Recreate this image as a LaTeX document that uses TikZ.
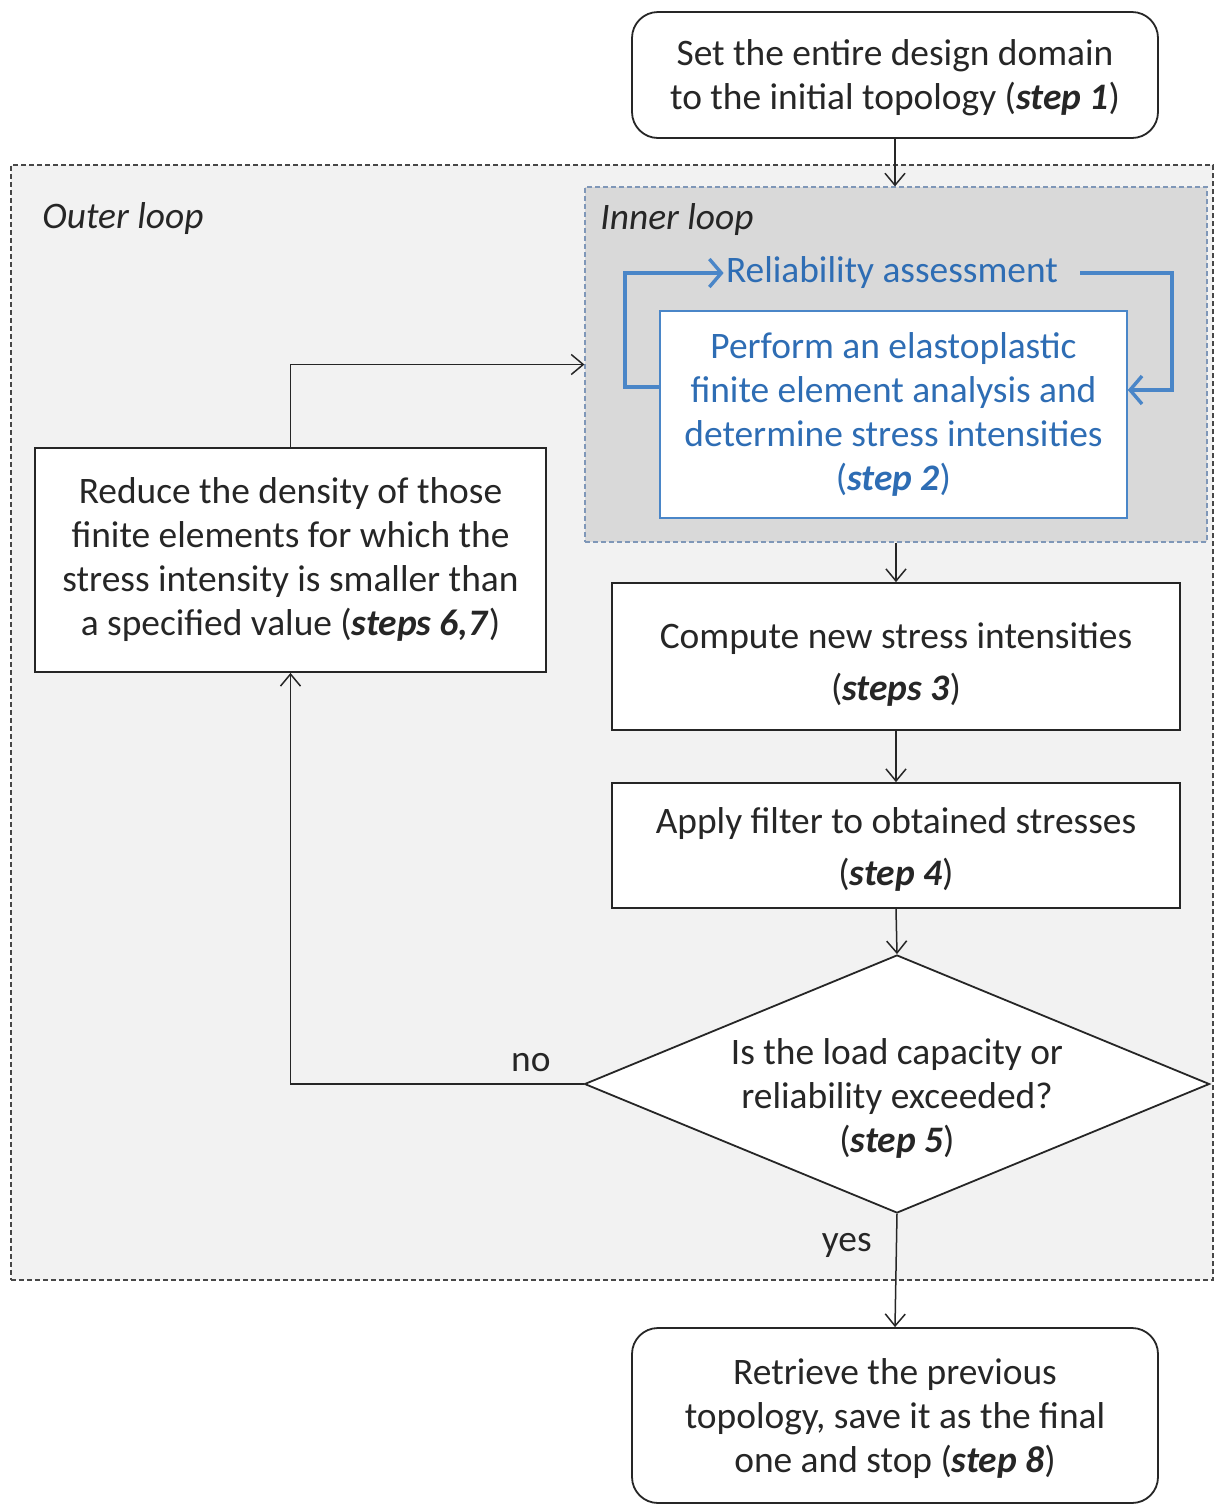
\documentclass[tikz,border=0pt]{standalone}
\usepackage{fontspec}
\setmainfont{Carlito}
\usetikzlibrary{arrows.meta,shapes.geometric}
\definecolor{txt}{HTML}{262626}
\definecolor{outerfill}{HTML}{F2F2F2}
\definecolor{innerfill}{HTML}{D9D9D9}
\definecolor{innerdash}{HTML}{7F97B8}
\definecolor{bluetxt}{HTML}{2E6DB4}
\definecolor{blueline}{HTML}{4A86C8}
\newcommand{\stp}[1]{\textbf{\textit{#1}}}
\begin{document}
\begin{tikzpicture}[x=0.5pt,y=-0.5pt,
  font=\fontsize{18.7}{22}\selectfont, text=txt,
  box/.style={draw=txt,line width=0.9pt,fill=white,align=center,inner sep=0pt},
  rbox/.style={box,rounded corners=13pt},
  conn/.style={draw=txt,line width=0.75pt,-{Straight Barb[length=6pt,width=10pt,line width=0.75pt]}},
  bconn/.style={draw=blueline,line width=1.7pt,-{Straight Barb[length=6pt,width=14pt,line width=1.7pt]}},
  lbl/.style={inner sep=0pt,anchor=base west,font=\fontsize{18.7}{22}\selectfont\itshape}]
\useasboundingbox (0,0) rectangle (1215,1506);
% containers
\node[draw=txt!85,dash pattern=on 2.5pt off 1.5pt,line width=0.6pt,fill=outerfill,minimum width=601pt,minimum height=557.5pt,inner sep=0pt] (outer) at (612,722.5) {};
\node[draw=innerdash,dash pattern=on 2.5pt off 1.5pt,line width=0.6pt,fill=innerfill,minimum width=311pt,minimum height=177.5pt,inner sep=0pt] (inner) at (896,364.5) {};
\node[lbl] (outerlbl) at (42,228) {Outer loop};
\node[lbl] (innerlbl) at (600,229) {Inner loop};
% nodes
\node[rbox,minimum width=263pt,minimum height=63pt] (s1) at (895,75)
  {\rule{0pt}{16pt}Set the entire design domain\\to the initial topology (\stp{step 1})};
\node[box,draw=blueline,line width=0.8pt,text=bluetxt,minimum width=233.5pt,minimum height=103.5pt] (s2) at (893.5,414.5)
  {Perform an elastoplastic\\finite element analysis and\\determine stress intensities\\(\stp{step 2})};
\node[text=bluetxt,inner sep=1pt] (rel) at (892,273) {Reliability assessment};
\node[box,minimum width=284pt,minimum height=73.5pt] (s3) at (896,656.5)
  {\rule{0pt}{21pt}Compute new stress intensities\\[4pt](\stp{steps 3})};
\node[box,minimum width=284pt,minimum height=62.5pt] (s4) at (896,845.5)
  {\rule{0pt}{16.5pt}Apply filter to obtained stresses\\[4pt](\stp{step 4})};
\node[box,shape=diamond,aspect=2.42,minimum width=312.5pt,minimum height=129pt] (dia) at (897,1084)
  {\raisebox{10pt}[0pt][0pt]{\begin{tabular}[t]{@{}c@{}}Is the load capacity or\\reliability exceeded?\\(\stp{step 5})\end{tabular}}};
\node[box,minimum width=255.5pt,minimum height=112pt] (s67) at (290.5,560)
  {Reduce the density of those\\finite elements for which the\\stress intensity is smaller than\\a specified value (\stp{steps 6,7})};
\node[rbox,minimum width=263pt,minimum height=87.5pt] (s8) at (895,1415.5)
  {\rule{0pt}{16pt}Retrieve the previous\\topology, save it as the final\\one and stop (\stp{step 8})};
% connectors
\draw[conn] (s1.south) -- (s1.south |- inner.north);
\draw[conn] (inner.south -| s3.north) -- (s3.north);
\draw[conn] (s3.south) -- (s4.north);
\draw[conn] (s4.south) -- (dia.north);
\draw[conn] (dia.west) -| node[pos=0.09,above=6pt,inner sep=0pt] (nolbl) {no} (s67.south);
\draw[conn] (s67.north) |- (inner.west);
\draw[conn] (dia.south) -- node[pos=0.28,left=12pt,inner sep=0pt] (yeslbl) {yes} (s8.north);
% blue loop
\coordinate (lc) at (625,387);
\coordinate (rc) at (1172,390);
\draw[bconn] (lc -| s2.west) -- (lc) |- (rel.west);
\draw[bconn] ([xshift=10pt]rel.east) -| (rc) -- (rc -| s2.east);
\end{tikzpicture}
\end{document}
